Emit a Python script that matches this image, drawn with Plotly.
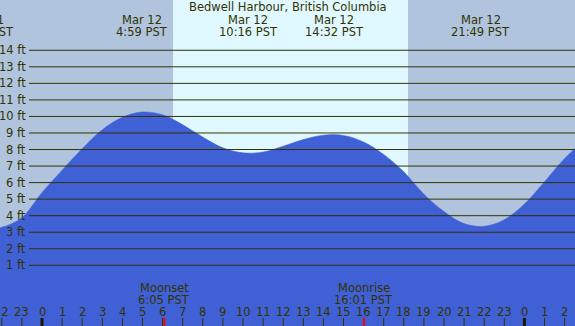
import plotly.graph_objects as go

# ---- data ----
hours = [-3, -2, -1, 0, 1, 2, 3, 4, 5, 6, 7, 8, 9, 10, 11, 12, 13, 14, 15,
         16, 17, 18, 19, 20, 21, 22, 23, 24, 25, 26, 27]
tide_ft = [3.12, 3.3, 3.88, 5.4, 6.75, 8.05, 9.2, 9.95, 10.27, 10.1, 9.5, 8.75,
           8.1, 7.8, 7.85, 8.2, 8.6, 8.87, 8.85, 8.45, 7.7, 6.65, 5.3, 4.25,
           3.52, 3.36, 3.76, 4.7, 6.05, 7.45, 8.6]

event_hours = [-2.87, 4.983, 10.267, 14.533, 21.817]
event_dates = ["Mar 11", "Mar 12", "Mar 12", "Mar 12", "Mar 12"]
event_times = ["21:08 PST", "4:59 PST", "10:16 PST", "14:32 PST", "21:49 PST"]

moon_hours = [6.083, 16.017]
moon_names = ["Moonset", "Moonrise"]
moon_times = ["6:05 PST", "16:01 PST"]

sunrise_h = 6.52
sunset_h = 18.21

ft_levels = list(range(1, 15))
tick_hours = list(range(-2, 27))
tick_labels = [str(h % 24) for h in tick_hours]

title = "Bedwell Harbour, British Columbia"

# ---- styling ----
W, H = 575, 326
NIGHT = "#b0c4de"
DAY = "#e0f8ff"
WATER = "#4060d6"
INK = "#333300"
FONT = "DejaVu Sans"
FS = 11.5

X0, X1 = -2.0896, 26.517
Y0, Y1 = -2.67, 17.04


def py(px):
    return 1 - px / H


def paper_x(h):
    return (h - X0) / (X1 - X0)


fig = go.Figure()
fig.add_trace(go.Scatter(x=[X0 - 1, X1 + 1], y=[Y0 - 1, Y0 - 1], mode="lines",
                         line=dict(width=0), hoverinfo="skip", showlegend=False))
fig.add_trace(go.Scatter(x=hours, y=tide_ft, mode="lines", fill="tonexty",
                         fillcolor=WATER, line=dict(color=WATER, width=0.5, shape="spline", smoothing=1.0),
                         hoverinfo="skip", showlegend=False))

shapes = []
shapes.append(dict(type="rect", xref="x", yref="paper", x0=sunrise_h, x1=sunset_h,
                   y0=0, y1=1, fillcolor=DAY, line=dict(width=0), layer="below"))
for lv in ft_levels:
    shapes.append(dict(type="line", xref="paper", yref="y", x0=29 / W, x1=1,
                       y0=lv, y1=lv, line=dict(color=INK, width=1), layer="above"))
for h in tick_hours:
    wd = 3 if h % 24 == 0 else 1
    shapes.append(dict(type="line", xref="x", yref="paper", x0=h, x1=h,
                       y0=0, y1=8 / H, line=dict(color=INK if wd == 1 else "#1a1a00", width=wd),
                       layer="above"))
for h in moon_hours:
    shapes.append(dict(type="line", xref="x", yref="paper", x0=h, x1=h,
                       y0=0, y1=8 / H, line=dict(color="#ff0000", width=2), layer="above"))

ann = []
ann.append(dict(text=title, xref="paper", yref="paper", x=288 / W, y=py(7.5),
                xanchor="center", yanchor="middle", showarrow=False))
for h, d, t in zip(event_hours, event_dates, event_times):
    ann.append(dict(text=d, xref="paper", yref="paper", x=paper_x(h), y=py(20),
                    xanchor="center", yanchor="middle", showarrow=False))
    ann.append(dict(text=t, xref="paper", yref="paper", x=paper_x(h), y=py(32),
                    xanchor="center", yanchor="middle", showarrow=False))
for h, n, t in zip(moon_hours, moon_names, moon_times):
    ann.append(dict(text=n, xref="x", yref="paper", x=h, y=py(287.5), xanchor="center",
                    yanchor="middle", showarrow=False))
    ann.append(dict(text=t, xref="x", yref="paper", x=h, y=py(299.5), xanchor="center",
                    yanchor="middle", showarrow=False))
for lv in ft_levels:
    ann.append(dict(text=f"{lv} ft", xref="paper", yref="y", x=27.5 / W, y=lv,
                    xanchor="right", yanchor="middle", showarrow=False,
                    font=dict(size=11.5)))
for h, lab in zip(tick_hours, tick_labels):
    ann.append(dict(text=lab, xref="x", yref="paper", x=h, y=py(311.5), xanchor="center",
                    yanchor="middle", showarrow=False))

fig.update_layout(
    width=W, height=H, margin=dict(l=0, r=0, t=0, b=0),
    paper_bgcolor=NIGHT, plot_bgcolor=NIGHT,
    xaxis=dict(range=[X0, X1], visible=False, fixedrange=True),
    yaxis=dict(range=[Y0, Y1], visible=False, fixedrange=True),
    shapes=shapes, annotations=ann,
    font=dict(family=FONT, size=FS, color=INK),
    showlegend=False,
)

fig.write_html("out.html", config={"displayModeBar": False},
               post_script="document.body.style.margin='0';document.body.style.padding='0';"
                           "document.body.style.overflow='hidden';")
